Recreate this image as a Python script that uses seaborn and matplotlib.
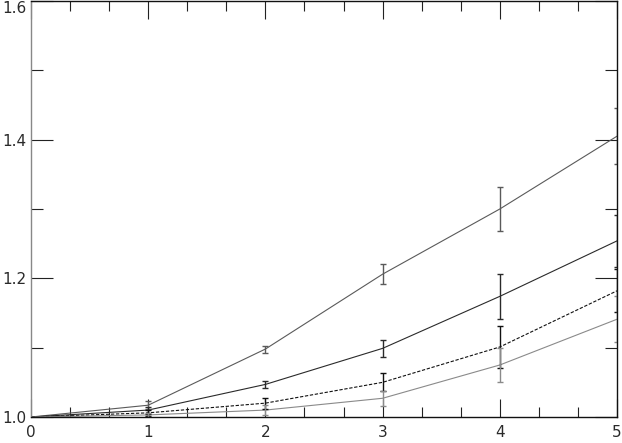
import matplotlib
matplotlib.use("Agg")
import matplotlib.pyplot as plt
import numpy as np
import pandas as pd
import seaborn as sns
from matplotlib.ticker import MultipleLocator, FixedLocator

# values
x = [0, 1, 2, 3, 4, 5]
curve_a = [1.000, 1.017, 1.098, 1.206, 1.300, 1.405]
curve_b = [1.000, 1.010, 1.047, 1.099, 1.174, 1.254]
curve_c = [1.000, 1.006, 1.020, 1.050, 1.101, 1.182]
curve_d = [1.000, 1.003, 1.010, 1.027, 1.075, 1.141]
err_a = [0.0, 0.006, 0.005, 0.014, 0.032, 0.040]
err_b = [0.0, 0.005, 0.0045, 0.012, 0.032, 0.037]
err_c = [0.0, 0.004, 0.008, 0.013, 0.030, 0.031]
err_d = [0.0, 0.003, 0.007, 0.011, 0.025, 0.033]
names = ["a", "b", "c", "d"]

df = pd.concat([
    pd.DataFrame({"x": x, "y": v, "err": e, "curve": n})
    for v, e, n in zip([curve_a, curve_b, curve_c, curve_d],
                       [err_a, err_b, err_c, err_d], names)
])

colors = {"a": "#5a5a5a", "b": "#2a2a2a", "c": "#111111", "d": "#8a8a8a"}
dashes = {"a": "", "b": "", "c": (3, 1.5), "d": ""}

sns.set_style("ticks")
plt.rcParams["font.family"] = ["DejaVu Sans"]

fig = plt.figure(figsize=(6.22, 4.43), dpi=100)
ax = fig.add_axes([31 / 622, 1 - 417 / 443, 586 / 622, 416 / 443])

sns.lineplot(data=df, x="x", y="y", hue="curve", style="curve",
             palette=colors, dashes=dashes, linewidth=0.8,
             legend=False, ax=ax)
for n in names:
    d = df[df.curve == n]
    ax.errorbar(d.x, d.y, yerr=d.err, fmt="none", ecolor=colors[n],
                elinewidth=1.0, capsize=2.5, capthick=1.0)

ax.set_xlim(0, 5)
ax.set_ylim(1.0, 1.6)
ax.xaxis.set_major_locator(MultipleLocator(1))
ax.xaxis.set_minor_locator(MultipleLocator(1 / 3))
ax.yaxis.set_major_locator(FixedLocator([1.0, 1.2, 1.4, 1.6]))
ax.yaxis.set_minor_locator(MultipleLocator(0.1))
ax.set_yticklabels(["1.0", "1.2", "1.4", "1.6"])
ax.tick_params(axis="both", which="both", direction="in",
               top=True, right=True, colors="#222222", labelcolor="#2a2a2a",
               labelsize=11)
ax.tick_params(axis="x", which="major", length=13, width=0.8, pad=6)
ax.tick_params(axis="x", which="minor", length=7, width=0.8)
ax.tick_params(axis="y", which="major", length=16, width=0.8, pad=3)
ax.tick_params(axis="y", which="minor", length=8.5, width=0.8)
ax.get_yticklabels()[-1].set_verticalalignment("top")
for s in ax.spines.values():
    s.set_linewidth(1.0)
    s.set_color("#111111")
ax.spines["left"].set_color("#888888")
ax.set_xlabel("")
ax.set_ylabel("")

fig.savefig("out.png", dpi=100)
